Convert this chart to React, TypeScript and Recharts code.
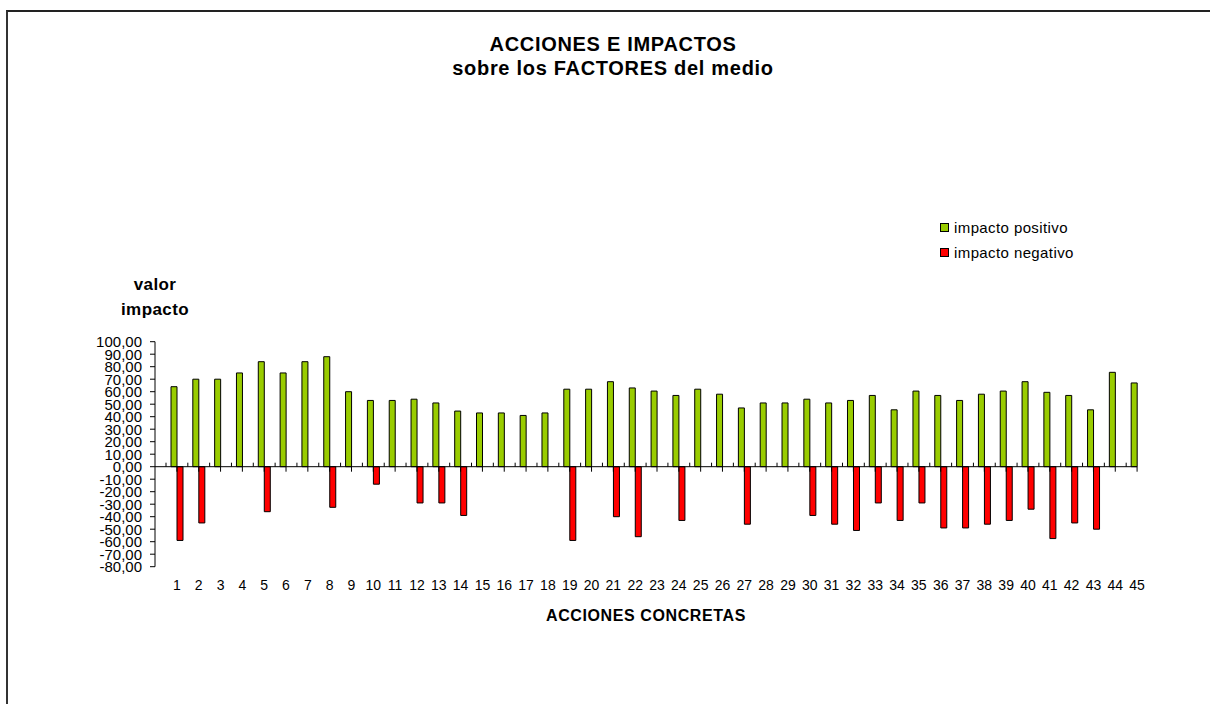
import { BarChart, Bar, XAxis, YAxis } from "recharts";

const acciones = [
  "1", "2", "3", "4", "5", "6", "7", "8", "9", "10", "11", "12", "13", "14", "15",
  "16", "17", "18", "19", "20", "21", "22", "23", "24", "25", "26", "27", "28", "29", "30",
  "31", "32", "33", "34", "35", "36", "37", "38", "39", "40", "41", "42", "43", "44", "45",
];

const impactoPositivo = [
  64, 70, 70, 75, 84, 75, 84, 88, 60, 53, 53, 54, 51, 44.5, 43,
  43, 41, 43, 62, 62, 68, 63, 60.5, 57, 62, 58, 47, 51, 51, 54,
  51, 53, 57, 45.5, 60.5, 57, 53, 58, 60.5, 68, 59.5, 57, 45.5, 75.5, 67,
];

const impactoNegativo = [
  -59, -45, null, null, -36, null, null, -32.5, null, -14, null, -29, -29, -39, null,
  null, null, null, -59, null, -40, -56, null, -43, null, null, -46, null, null, -39,
  -46, -51, -29, -43, -29, -49, -49, -46, -43, -34, -57.5, -45, -50, null, null,
];

const yTicks = [100, 90, 80, 70, 60, 50, 40, 30, 20, 10, 0, -10, -20, -30, -40, -50, -60, -70, -80];

const data = acciones.map((a, i) => ({
  accion: a,
  positivo: impactoPositivo[i],
  negativo: impactoNegativo[i],
}));

const FONT = "'Liberation Sans', Arial, Helvetica, sans-serif";
const GREEN = "#99CC00";
const RED = "#FF0000";

// layout
const W = 1210;
const H = 704;
const PLOT_LEFT = 155;
const PLOT_TOP = 341.7;
const PLOT_BOTTOM = 566.7;
const PLOT_RIGHT = 1148;
const PAD_LEFT = 11;
const YAXIS_W = 60;
const XAXIS_H = 30;
const BAND = (PLOT_RIGHT - PLOT_LEFT - PAD_LEFT) / acciones.length;
const ZERO_Y = PLOT_TOP + ((PLOT_BOTTOM - PLOT_TOP) * 100) / 180;

const fmt = (v: number) => v.toFixed(2).replace(".", ",");

function CatTick(props: any) {
  const { x, index, payload } = props;
  const half = BAND / 2;
  return (
    <g>
      {index === 0 && (
        <line
          x1={PLOT_LEFT}
          x2={x + (acciones.length - 1) * BAND}
          y1={ZERO_Y}
          y2={ZERO_Y}
          stroke="#000"
        />
      )}
      <line x1={x - half} x2={x - half} y1={ZERO_Y - 4} y2={ZERO_Y} stroke="#000" />
      <line x1={x} x2={x} y1={ZERO_Y} y2={ZERO_Y + 5} stroke="#000" />
      <text x={x} y={PLOT_BOTTOM + 23} textAnchor="middle" fontSize={14} fontFamily={FONT} fill="#000">
        {payload.value}
      </text>
    </g>
  );
}

function LegendItem({ color, label }: { color: string; label: string }) {
  return (
    <div style={{ display: "flex", alignItems: "center", height: 25 }}>
      <span
        style={{
          width: 7,
          height: 7,
          background: color,
          border: "1px solid #000",
          marginRight: 5,
        }}
      />
      <span style={{ fontSize: 15, letterSpacing: 0.4 }}>{label}</span>
    </div>
  );
}

export default function App() {
  return (
    <div
      style={{
        position: "absolute",
        left: 0,
        top: 0,
        width: W,
        height: H,
        overflow: "hidden",
        background: "#fff",
        fontFamily: FONT,
        color: "#000",
      }}
    >
      <div
        style={{
          position: "absolute",
          left: 6,
          top: 10,
          width: W,
          height: H,
          borderTop: "2px solid #222",
          borderLeft: "2px solid #333",
        }}
      />
      <div
        style={{
          position: "absolute",
          left: 313,
          width: 600,
          top: 32,
          textAlign: "center",
          fontWeight: "bold",
          fontSize: 20,
          lineHeight: "24px",
          letterSpacing: 0.7,
        }}
      >
        ACCIONES E IMPACTOS
        <br />
        sobre los FACTORES del medio
      </div>
      <div
        style={{
          position: "absolute",
          left: 95,
          width: 120,
          top: 272,
          textAlign: "center",
          fontWeight: "bold",
          fontSize: 17,
          lineHeight: "25px",
          letterSpacing: 0.4,
        }}
      >
        valor
        <br />
        impacto
      </div>
      <div style={{ position: "absolute", left: 940, top: 215 }}>
        <LegendItem color={GREEN} label="impacto positivo" />
        <LegendItem color={RED} label="impacto negativo" />
      </div>
      <div
        style={{
          position: "absolute",
          left: 446,
          width: 400,
          top: 607,
          textAlign: "center",
          fontWeight: "bold",
          fontSize: 16,
          letterSpacing: 0.6,
        }}
      >
        ACCIONES CONCRETAS
      </div>
      <div style={{ position: "absolute", left: 0, top: 0 }}>
        <BarChart
          width={W}
          height={H}
          data={data}
          margin={{
            top: PLOT_TOP,
            right: W - PLOT_RIGHT,
            bottom: H - PLOT_BOTTOM - XAXIS_H,
            left: PLOT_LEFT - YAXIS_W,
          }}
          barGap={0}
          barSize={6}
        >
          <XAxis
            dataKey="accion"
            height={XAXIS_H}
            interval={0}
            axisLine={false}
            tickLine={false}
            padding={{ left: PAD_LEFT, right: 0 }}
            tick={<CatTick />}
          />
          <YAxis
            width={YAXIS_W}
            domain={[-80, 100]}
            ticks={yTicks}
            interval={0}
            allowDataOverflow
            tickFormatter={fmt}
            tickSize={5}
            tickMargin={8}
            axisLine={{ stroke: "#000" }}
            tickLine={{ stroke: "#000" }}
            tick={{ fill: "#000", fontSize: 15, fontFamily: FONT }}
          />
          <Bar dataKey="positivo" fill={GREEN} stroke="#000" strokeWidth={1} isAnimationActive={false} />
          <Bar dataKey="negativo" fill={RED} stroke="#000" strokeWidth={1} isAnimationActive={false} />
        </BarChart>
      </div>
    </div>
  );
}
